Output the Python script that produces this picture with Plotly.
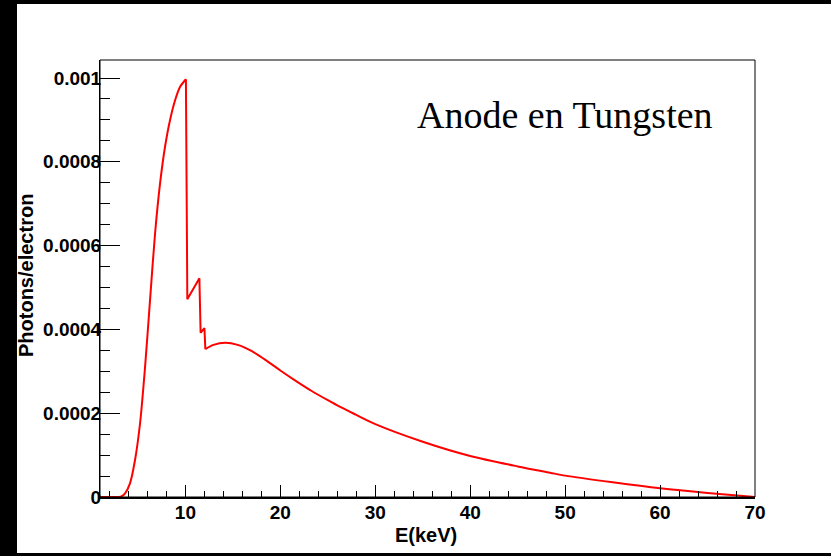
import plotly.graph_objects as go

# Data
energy_kev = [1, 2, 3.0, 3.3, 3.64, 4.16, 4.69, 5.22, 5.75, 6.27, 6.80, 7.33, 7.85, 8.38,
              8.91, 9.44, 10.05, 10.2, 11.47, 11.6, 12.0, 12.1, 12.95, 14.2, 15.5, 17,
              18.75, 20, 21.5, 23.3, 25, 26.3, 27.9, 30, 35, 40, 45, 48.4, 50, 55, 60, 65, 70]
photons = [0, 0, 0, 0.000002, 0.0000088, 0.0000327, 0.0000883, 0.000176, 0.000311, 0.00047,
           0.000629, 0.000749, 0.000836, 0.0009, 0.000947, 0.000979, 0.000997, 0.000472,
           0.000522, 0.000392, 0.000403, 0.000353, 0.000363, 0.000368, 0.000363, 0.000348,
           0.000322, 0.000302, 0.000279, 0.000253, 0.000231, 0.000215, 0.000197, 0.000174,
           0.000132, 0.000098, 0.000073, 0.000058, 0.000051, 0.000035, 0.0000207, 0.0000095, 0]

y_tickvals = [0, 0.0002, 0.0004, 0.0006, 0.0008, 0.001]
y_ticktext = ["0", "0.0002", "0.0004", "0.0006", "0.0008", "0.001"]
x_tickvals = [10, 20, 30, 40, 50, 60, 70]
x_ticktext = ["10", "20", "30", "40", "50", "60", "70"]

W, H = 831, 556
L, R, T, B = 100, 76, 60, 59
pw, ph = W - L - R, H - T - B


def px_x(p):
    return (p - L) / pw


def px_y(p):
    return (H - B - p) / ph


# split indices: smooth rise, absorption edges (straight), smooth tail
i_peak = energy_kev.index(10.05)
i_tail = energy_kev.index(12.1)

line_style = dict(color="#ff0000", width=2)
fig = go.Figure()
fig.add_trace(go.Scatter(x=energy_kev[:i_peak + 1], y=photons[:i_peak + 1], mode="lines",
                         line=dict(**line_style, shape="spline", smoothing=0.8), showlegend=False))
fig.add_trace(go.Scatter(x=energy_kev[i_peak:i_tail + 1], y=photons[i_peak:i_tail + 1], mode="lines",
                         line=line_style, showlegend=False))
fig.add_trace(go.Scatter(x=energy_kev[i_tail:], y=photons[i_tail:], mode="lines",
                         line=dict(**line_style, shape="spline", smoothing=0.8), showlegend=False))

font_family = "Liberation Sans, Arial, sans-serif"

fig.update_layout(
    width=W, height=H,
    margin=dict(l=L, r=R, t=T, b=B, pad=0),
    paper_bgcolor="white", plot_bgcolor="white",
    xaxis=dict(range=[1, 70], tickvals=x_tickvals, ticktext=x_ticktext,
               ticks="inside", ticklen=12, tickwidth=1, tickcolor="black",
               minor=dict(dtick=2, tick0=0, ticks="inside", ticklen=6, tickwidth=1, tickcolor="black"),
               showline=True, linecolor="black", linewidth=2, showgrid=False, zeroline=False,
               ticklabelstandoff=-3,
               tickfont=dict(family=font_family, size=19, color="black", weight="bold")),
    yaxis=dict(range=[0, 0.001043], tickvals=y_tickvals, ticktext=y_ticktext,
               ticks="inside", ticklen=20, tickwidth=1, tickcolor="black",
               minor=dict(dtick=0.00005, tick0=0, ticks="inside", ticklen=10, tickwidth=1, tickcolor="black"),
               showline=True, linecolor="black", linewidth=1, showgrid=False, zeroline=False,
               ticklabelstandoff=-6,
               tickfont=dict(family=font_family, size=19, color="black", weight="bold")),
    shapes=[
        dict(type="rect", xref="paper", yref="paper", x0=0, x1=1, y0=0, y1=1,
             line=dict(color="black", width=1), fillcolor="rgba(0,0,0,0)"),
        # black border strips
        dict(type="rect", xref="paper", yref="paper", x0=px_x(0), x1=px_x(17), y0=px_y(H), y1=px_y(0),
             line=dict(width=0), fillcolor="black"),
        dict(type="rect", xref="paper", yref="paper", x0=px_x(0), x1=px_x(W), y0=px_y(4), y1=px_y(0),
             line=dict(width=0), fillcolor="black"),
        dict(type="rect", xref="paper", yref="paper", x0=px_x(0), x1=px_x(W), y0=px_y(H), y1=px_y(553),
             line=dict(width=0), fillcolor="black"),
    ],
    annotations=[
        dict(text="Anode en Tungsten", xref="paper", yref="paper", x=px_x(565), y=px_y(115),
             xanchor="center", yanchor="middle", showarrow=False,
             font=dict(family="Liberation Serif, Times New Roman, serif", size=38, color="black")),
        dict(text="E(keV)", xref="paper", yref="paper", x=px_x(426), y=px_y(535),
             xanchor="center", yanchor="middle", showarrow=False,
             font=dict(family=font_family, size=20, color="black", weight="bold")),
        dict(text="Photons/electron", xref="paper", yref="paper", x=px_x(26), y=px_y(276),
             xanchor="center", yanchor="middle", showarrow=False, textangle=-90,
             font=dict(family=font_family, size=20, color="black", weight="bold")),
    ],
)

fig.write_html("out.html", config={"displayModeBar": False},
               post_script="document.body.style.margin='0';document.body.style.padding='0';")
